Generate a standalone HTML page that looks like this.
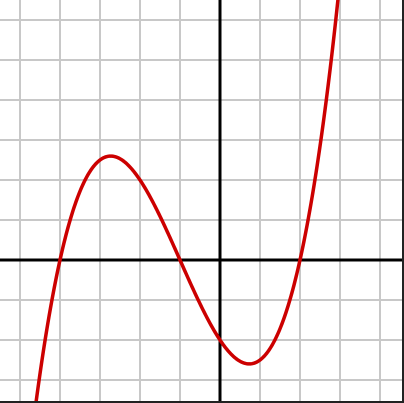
<!DOCTYPE html>
<html><head><meta charset="utf-8"><style>
html,body{margin:0;padding:0;background:#fff;width:404px;height:403px;overflow:hidden;}
svg{display:block;overflow:hidden;}
</style></head><body>
<svg id="chart" width="404" height="403" viewBox="0 0 404 403" xmlns="http://www.w3.org/2000/svg">
<rect x="0" y="0" width="404" height="403" fill="#fff"/>
<g id="grid"></g>
<g id="axes"></g>
<path id="curve" fill="none" stroke="#cc0000" stroke-width="3.5" stroke-linejoin="round"/>
<rect x="0" y="401" width="404" height="2" fill="#222"/>
<rect x="402" y="0" width="2" height="403" fill="#222"/>
</svg>
<script>
// data: polynomial roots and leading coefficient
const roots = [-4, -1, 2];
const leadCoef = [0.25];
const xTicks = [-5, -4, -3, -2, -1, 0, 1, 2, 3, 4];
const yTicks = [-3, -2, -1, 0, 1, 2, 3, 4, 5, 6];

const unit = 40, x0 = 220, y0 = 260;
const sx = v => x0 + v * unit;
const sy = v => y0 - v * unit;
const NS = "http://www.w3.org/2000/svg";
const grid = document.getElementById('grid');
const axes = document.getElementById('axes');

xTicks.forEach(t => {
  if (t === 0) return;
  const l = document.createElementNS(NS, 'line');
  
  
  l.setAttribute('x1', sx(t)); l.setAttribute('x2', sx(t));
  l.setAttribute('y1', 0); l.setAttribute('y2', 403);
  l.setAttribute('stroke', '#c8c8c8'); l.setAttribute('stroke-width', 2);
  grid.appendChild(l);
});
yTicks.forEach(t => {
  if (t === 0) return;
  const l = document.createElementNS(NS, 'line');
  
  
  l.setAttribute('x1', 0); l.setAttribute('x2', 404);
  l.setAttribute('y1', sy(t)); l.setAttribute('y2', sy(t));
  l.setAttribute('stroke', '#c8c8c8'); l.setAttribute('stroke-width', 2);
  grid.appendChild(l);
});

const xa = document.createElementNS(NS, 'line');


xa.setAttribute('x1', 0); xa.setAttribute('x2', 404);
xa.setAttribute('y1', sy(0)); xa.setAttribute('y2', sy(0));
xa.setAttribute('stroke', '#000'); xa.setAttribute('stroke-width', 3);
axes.appendChild(xa);
const ya = document.createElementNS(NS, 'line');


ya.setAttribute('x1', sx(0)); ya.setAttribute('x2', sx(0));
ya.setAttribute('y1', 0); ya.setAttribute('y2', 403);
ya.setAttribute('stroke', '#000'); ya.setAttribute('stroke-width', 3);
axes.appendChild(ya);

const f = x => roots.reduce((p, r) => p * (x - r), leadCoef[0]);
let d = '';
for (let px = 0; px <= 404; px += 1) {
  const x = (px - x0) / unit;
  const y = Math.max(-20, Math.min(423, sy(f(x))));
  d += (px === 0 ? 'M' : 'L') + px + ',' + y.toFixed(2) + ' ';
}
document.getElementById('curve').setAttribute('d', d);
</script>
</body></html>
